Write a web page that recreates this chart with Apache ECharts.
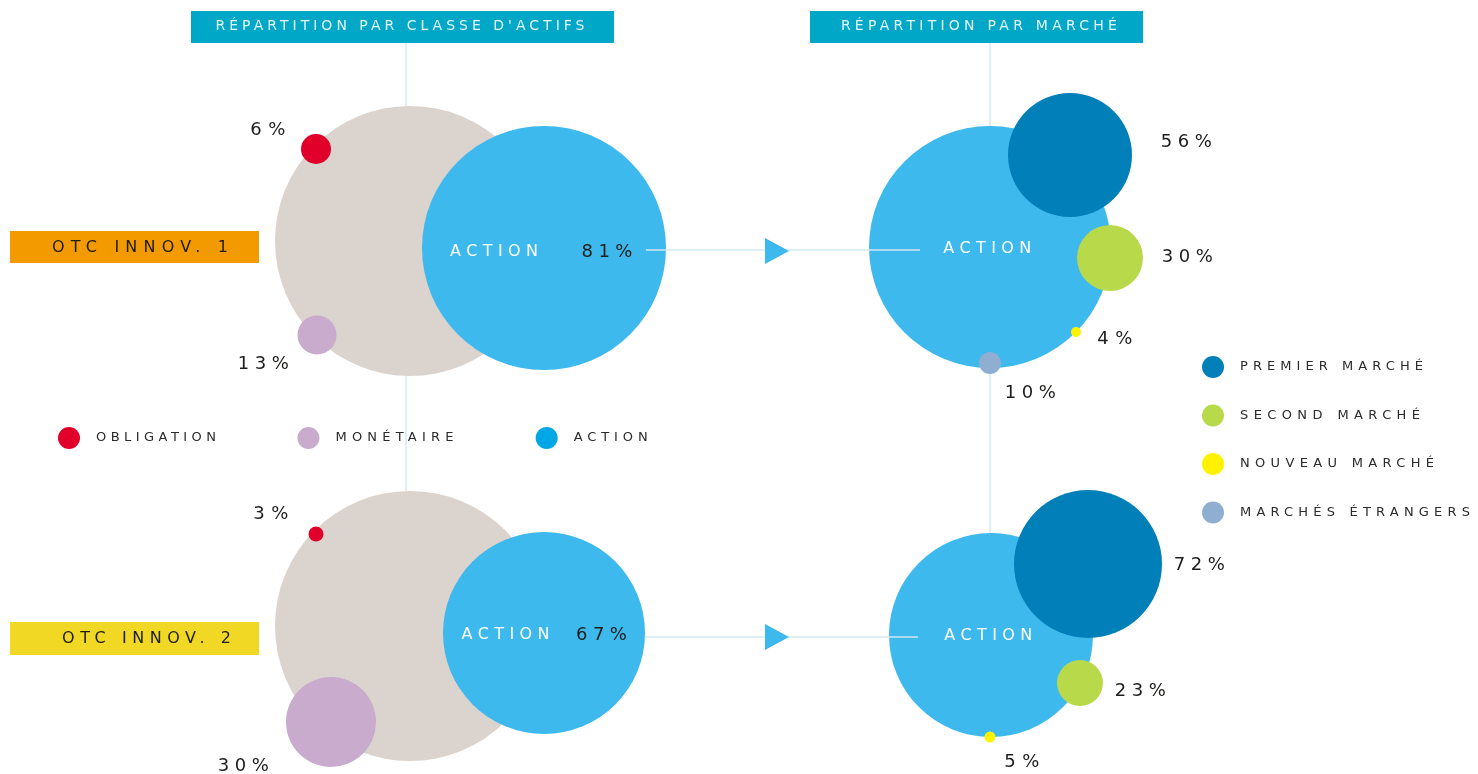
<!DOCTYPE html>
<html>
<head>
<meta charset="utf-8">
<title>Répartition OTC Innov.</title>
<script src="https://cdn.jsdelivr.net/npm/echarts@6/dist/echarts.min.js"></script>
<style>
  html, body { margin: 0; padding: 0; background: #ffffff; }
  #chart { width: 1478px; height: 774px; }
</style>
</head>
<body>
<div id="chart"></div>
<script>
// ---- data ----
const panelTitles = ['RÉPARTITION PAR CLASSE D\'ACTIFS', 'RÉPARTITION PAR MARCHÉ'];
const funds = ['OTC INNOV. 1', 'OTC INNOV. 2'];
const assetClasses = ['OBLIGATION', 'MONÉTAIRE', 'ACTION'];
const obligation = [6, 3];
const monetaire = [13, 30];
const action = [81, 67];
const markets = ['PREMIER MARCHÉ', 'SECOND MARCHÉ', 'NOUVEAU MARCHÉ', 'MARCHÉS ÉTRANGERS'];
const premierMarche = [56, 72];
const secondMarche = [30, 23];
const nouveauMarche = [4, 5];
const marchesEtrangers = [10, 0];

// ---- layout (bubble centre x, y and radius, in the pixel units of the hidden axes) ----
const place = {
  total:       [[410, 241, 135], [410, 626, 135]],
  obligation:  [[316, 149, 15], [316, 534, 7.5]],
  monetaire:   [[317, 335, 19.5], [331, 722, 45]],
  actionLeft:  [[544, 248, 122], [544, 633, 101]],
  actionRight: [[990, 247, 121], [991, 635, 102]],
  premier:     [[1070, 155, 62], [1088, 564, 74]],
  second:      [[1110, 258, 33], [1080, 683, 23]],
  nouveau:     [[1076, 332, 5], [990, 737, 5.5]],
  etrangers:   [[990, 363, 11], null]
};
// label offsets from the bubble centre
const shift = {
  obligation: [[-45, -19], [-42, -20]],
  monetaire:  [[-51, 29], [-85, 44]],
  premier:    [[119, -13], [114, 1]],
  second:     [[80, -1], [63, 8]],
  nouveau:    [[42, 7], [35, 25]],
  etrangers:  [[43, 30], null]
};
const guides = [[[406, 43], [406, 491]], [[990, 43], [990, 534]]];
const connectors = [[[646, 250], [920, 250]], [[645, 637], [918, 637]]];
const arrows = [[777, 251], [777, 637]];

const FONT = 'DejaVu Sans';
const colors = {
  total: '#dbd3cd', obligation: '#e1002a', monetaire: '#c8abcd', action: '#3db9ee',
  actionKey: '#00a7e7', premier: '#007fb8', second: '#b8d94a', nouveau: '#fff200',
  etrangers: '#8eafd2', guide: '#d3e8f3', title: '#00a7c6'
};

// the source uses widely tracked capitals: spread letters to the widths seen in the picture
const TEXT_WIDTH = {
  '14|RÉPARTITION PAR CLASSE D\'ACTIFS': 369,
  '14|RÉPARTITION PAR MARCHÉ': 276,
  '16|OTC INNOV. 1': 176,
  '16|OTC INNOV. 2': 169,
  '16|ACTION': 88,
  '13|OBLIGATION': 120,
  '13|MONÉTAIRE': 118,
  '13|ACTION': 74,
  '13|PREMIER MARCHÉ': 183,
  '13|SECOND MARCHÉ': 180,
  '13|NOUVEAU MARCHÉ': 194,
  '13|MARCHÉS ÉTRANGERS': 230
};
function targetWidth(text, size) {
  const w = TEXT_WIDTH[size + '|' + text];
  if (w) return w;
  if (/%$/.test(text)) return text.length === 2 ? 35 : 51;
  return 0;
}
const ctxProto = CanvasRenderingContext2D.prototype;
const rawFill = ctxProto.fillText;
const rawMeasure = ctxProto.measureText;
function track(ctx, text) {
  ctx.letterSpacing = '0px';
  const s = String(text);
  const m = /(\d+(?:\.\d+)?)px/.exec(ctx.font);
  const target = targetWidth(s, m ? Math.round(parseFloat(m[1])) : 0);
  if (!target || s.length < 2) return;
  const natural = rawMeasure.call(ctx, s).width;
  ctx.letterSpacing = Math.max(0, (target - natural) / (s.length - 1)) + 'px';
}
ctxProto.fillText = function (text) { track(this, text); return rawFill.apply(this, arguments); };
ctxProto.measureText = function (text) { track(this, text); return rawMeasure.apply(this, arguments); };

function bubbles(values, where, offsets) {
  const out = [];
  values.forEach((v, i) => {
    if (!v || !where[i]) return;
    const [x, y, r] = where[i];
    const item = { value: [x, y, v], symbolSize: r * 2 };
    if (offsets && offsets[i]) item.label = { offset: offsets[i] };
    out.push(item);
  });
  return out;
}

function actionLeftLabel(v, gap, offset) {
  return {
    offset: offset,
    formatter: '{n|ACTION}{v|' + v + '%}',
    rich: {
      n: { color: '#ffffff', fontSize: 16, fontFamily: FONT, padding: [0, gap, 0, 0] },
      v: { color: '#1d1d1b', fontSize: 18, fontFamily: FONT }
    }
  };
}

const actionData = action.map((v, i) => {
  const [x, y, r] = place.actionLeft[i];
  return { value: [x, y, v], symbolSize: r * 2, label: actionLeftLabel(v, [38, 21][i], [[0, 4], [3, 2]][i]) };
}).concat(action.map((v, i) => {
  const [x, y, r] = place.actionRight[i];
  return { value: [x, y, v], symbolSize: r * 2, label: { formatter: 'ACTION', color: '#ffffff', fontSize: 16, offset: [[0, 2], [0, 1]][i] } };
}));

const pctLabel = {
  show: true,
  position: 'inside',
  color: '#1d1d1b',
  fontSize: 18,
  fontFamily: FONT,
  formatter: p => p.value[2] + '%'
};

function scatter(name, data, color, label) {
  return {
    name: name,
    type: 'scatter',
    symbol: 'circle',
    silent: true,
    emphasis: { disabled: true },
    itemStyle: { color: color, opacity: 1 },
    label: label || { show: false },
    data: data
  };
}

const option = {
  animation: false,
  backgroundColor: '#ffffff',
  grid: { left: 0, right: 0, top: 0, bottom: 0 },
  xAxis: { type: 'value', min: 0, max: 1478, show: false },
  yAxis: { type: 'value', min: 0, max: 774, inverse: true, show: false },
  legend: [
    {
      left: 53, top: 422, orient: 'horizontal', icon: 'circle',
      itemWidth: 22, itemHeight: 22, itemGap: 77, selectedMode: false,
      textStyle: { color: '#2b2b2b', fontSize: 13, fontFamily: FONT, width: 150, padding: [0, 0, 0, 11] },
      data: [
        { name: assetClasses[0] },
        { name: assetClasses[1] },
        { name: assetClasses[2], itemStyle: { color: colors.actionKey } }
      ]
    },
    {
      left: 1197, top: 351, orient: 'vertical', icon: 'circle',
      itemWidth: 22, itemHeight: 22, itemGap: 26.5, selectedMode: false,
      textStyle: { color: '#2b2b2b', fontSize: 13, fontFamily: FONT, padding: [0, 0, 0, 11] },
      data: markets
    }
  ],
  graphic: [
    { type: 'rect', shape: { x: 191, y: 11, width: 423, height: 32 }, style: { fill: colors.title } },
    { type: 'text', x: 402, y: 26, style: { text: panelTitles[0], fill: '#e4f5f9', fontSize: 14, fontFamily: FONT, align: 'center', verticalAlign: 'middle' } },
    { type: 'rect', shape: { x: 810, y: 11, width: 333, height: 32 }, style: { fill: colors.title } },
    { type: 'text', x: 981, y: 26, style: { text: panelTitles[1], fill: '#e4f5f9', fontSize: 14, fontFamily: FONT, align: 'center', verticalAlign: 'middle' } },
    { type: 'rect', shape: { x: 10, y: 231, width: 249, height: 32 }, style: { fill: '#f29a00' } },
    { type: 'text', x: 52, y: 248, style: { text: funds[0], fill: '#1d1d1b', fontSize: 16, fontFamily: FONT, align: 'left', verticalAlign: 'middle' } },
    { type: 'rect', shape: { x: 10, y: 622, width: 249, height: 33 }, style: { fill: '#f0d824' } },
    { type: 'text', x: 62, y: 639, style: { text: funds[1], fill: '#1d1d1b', fontSize: 16, fontFamily: FONT, align: 'left', verticalAlign: 'middle' } }
  ],
  series: [
    {
      type: 'lines', coordinateSystem: 'cartesian2d', silent: true, z: 1,
      lineStyle: { color: colors.guide, width: 1.5, opacity: 1 },
      data: guides.map(c => ({ coords: c }))
    },
    scatter('TOTAL', bubbles([100, 100], place.total), colors.total),
    scatter(assetClasses[2], actionData, colors.action, { show: true, position: 'inside', fontFamily: FONT }),
    scatter(assetClasses[0], bubbles(obligation, place.obligation, shift.obligation), colors.obligation, pctLabel),
    scatter(assetClasses[1], bubbles(monetaire, place.monetaire, shift.monetaire), colors.monetaire, pctLabel),
    scatter(markets[0], bubbles(premierMarche, place.premier, shift.premier), colors.premier, pctLabel),
    scatter(markets[1], bubbles(secondMarche, place.second, shift.second), colors.second, pctLabel),
    scatter(markets[2], bubbles(nouveauMarche, place.nouveau, shift.nouveau), colors.nouveau, pctLabel),
    scatter(markets[3], bubbles(marchesEtrangers, place.etrangers, shift.etrangers), colors.etrangers, pctLabel),
    {
      type: 'lines', coordinateSystem: 'cartesian2d', silent: true, z: 3,
      lineStyle: { color: colors.guide, width: 1.5, opacity: 1 },
      data: connectors.map(c => ({ coords: c }))
    },
    {
      type: 'scatter', silent: true, z: 3, symbol: 'triangle', symbolRotate: -90,
      symbolSize: [26, 24], itemStyle: { color: colors.action, opacity: 1 },
      emphasis: { disabled: true }, data: arrows
    }
  ]
};

const chart = echarts.init(document.getElementById('chart'), null, { renderer: 'canvas' });
chart.setOption(option);
</script>
</body>
</html>
